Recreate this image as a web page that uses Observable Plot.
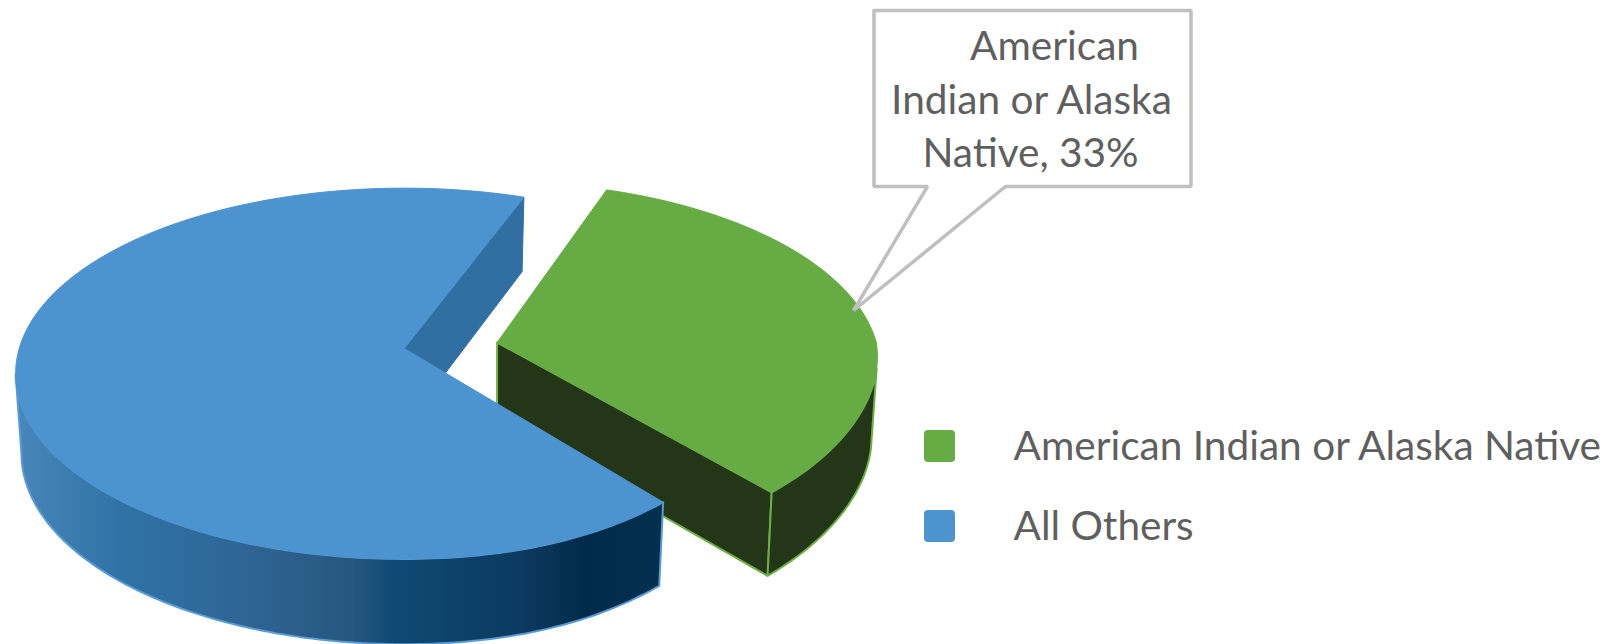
<!DOCTYPE html>
<html>
<head>
<meta charset="utf-8">
<style>
  html, body { margin: 0; padding: 0; background: #fff; }
  svg { display: block; }
</style>
<script src="https://cdn.jsdelivr.net/npm/d3@7"></script>
<script src="https://cdn.jsdelivr.net/npm/@observablehq/plot@0.6"></script>
</head>
<body>
<div id="chart"></div>
<script>
// Chart values
const categories = ["American Indian or Alaska Native", "All Others"];
const shares = [33, 67];
const calloutLines = ["American", "Indian or Alaska", "Native, 33%"];

// Colours
const topColors = ["#67ab45", "#4d93d0"];
const edgeColors = ["#70ad47", "#5b9bd5"];
const greenWall = "#233618";
const notchWall = "#316fa3";
const sideStops = [
  [0, "#4a86b9"], [0.16, "#2f73a6"], [0.36, "#2e6594"], [0.52, "#27567f"],
  [0.58, "#0f4a74"], [0.78, "#0c3a60"], [0.88, "#012b4a"], [1, "#02304f"]
];

// Tilted-disc projection: a unit circle seen in perspective from above.
const disc = {rx: 385, ry: 182, k: 0.135, depth: 79, sx: 0.985, sy: 1.03};
const slices = [
  {center: {x: 496.6, y: 342}, scaleX: 0.985, lean: 0.06, turn: 19},
  {center: {x: 403.7, y: 348}, scaleX: 1, lean: 0.15, turn: 20.5}
];

function project(slice, deg, radius, bottom) {
  const a = (deg * Math.PI) / 180;
  const u = radius * Math.sin(a);
  const v = -radius * Math.cos(a);
  const w = 1 - disc.k * v;
  // The front-right of the disc pulls in slightly under the steep viewpoint.
  const pull = 1 - slice.lean * Math.max(0, u) * Math.max(0, v);
  const rx = disc.rx * slice.scaleX * pull;
  return bottom
    ? {x: slice.center.x + (disc.sx * rx * u) / w, y: slice.center.y + disc.depth + (disc.sy * disc.ry * v) / w}
    : {x: slice.center.x + (rx * u) / w, y: slice.center.y + (disc.ry * v) / w};
}

function rim(slice, from, to, bottom) {
  const steps = Math.ceil(Math.abs(to - from));
  return d3.range(steps + 1).map((i) => project(slice, from + ((to - from) * i) / steps, 1, bottom));
}

const polygon = (points, options) => Plot.line([...points, points[0]], {x: "x", y: "y", curve: "linear", ...options});

// Each slice sweeps its share of the circle; the blue one runs on from the green one.
const [green, blue] = slices;
const greenEnd = green.turn + (shares[0] / 100) * 360;
const blueEnd = blue.turn + 360;
const blueStart = blueEnd - (shares[1] / 100) * 360;

const greenTop = [project(green, 0, 0), ...rim(green, green.turn, greenEnd)];
const blueTop = [project(blue, 0, 0), ...rim(blue, blueStart, blueEnd)];
const greenOuter = [...rim(green, 98, greenEnd), ...rim(green, greenEnd, 98, true)];
const greenCut = [project(green, 0, 0), project(green, greenEnd, 1), project(green, greenEnd, 1, true), project(green, 0, 0, true)];
const blueOuter = [...rim(blue, blueStart, 262), ...rim(blue, 262, blueStart, true)];
const blueNotch = [project(blue, 0, 0), project(blue, blueEnd, 1), project(blue, blueEnd, 1, true), project(blue, 0, 0, true)];

// Callout outline and the two-row legend
const calloutBox = {x1: 873.5, x2: 1190.5, y1: 10, y2: 186, tailLeft: 927, tailRight: 1005, tipX: 853, tipY: 310};
const calloutPath = [
  {x: calloutBox.x1, y: calloutBox.y1}, {x: calloutBox.x2, y: calloutBox.y1},
  {x: calloutBox.x2, y: calloutBox.y2}, {x: calloutBox.tailRight, y: calloutBox.y2},
  {x: calloutBox.tipX, y: calloutBox.tipY}, {x: calloutBox.tailLeft, y: calloutBox.y2},
  {x: calloutBox.x1, y: calloutBox.y2}
];
const calloutText = calloutLines.map((text, i) => ({text, x: [1054, 1031, 1030][i], y: [59, 113, 166][i]}));
const legendRows = categories.map((category, i) => ({category, color: topColors[i], top: 430 + i * 80}));

const textStyle = {fontFamily: "Lato", fontSize: 40.6, fill: "#5f5f5f", stroke: "none"};

const chart = Plot.plot({
  width: 1619,
  height: 644,
  margin: 0,
  x: {domain: [0, 1619], range: [0, 1619], axis: null},
  y: {domain: [0, 644], range: [0, 644], axis: null},
  style: {background: "#fff"},
  marks: [
    () => {
      const svg = d3.create("svg:defs");
      const grad = svg.append("linearGradient").attr("id", "blueSide");
      sideStops.forEach(([o, c]) => grad.append("stop").attr("offset", o).attr("stop-color", c));
      return svg.node();
    },
    polygon(blueNotch, {fill: notchWall, stroke: notchWall, strokeWidth: 1}),
    polygon(greenCut, {fill: greenWall, stroke: edgeColors[0], strokeWidth: 2}),
    polygon(greenOuter, {fill: greenWall, stroke: edgeColors[0], strokeWidth: 2}),
    polygon(greenTop, {fill: topColors[0], stroke: topColors[0], strokeWidth: 1}),
    polygon(blueOuter, {fill: "url(#blueSide)", stroke: edgeColors[1], strokeWidth: 2}),
    polygon(blueTop, {fill: topColors[1], stroke: topColors[1], strokeWidth: 1}),
    polygon(calloutPath, {fill: "#fff", stroke: "#bfbfbf", strokeWidth: 3.5, strokeLinejoin: "miter"}),
    Plot.text(calloutText, {x: "x", y: "y", text: "text", textAnchor: "middle", lineAnchor: "bottom", ...textStyle}),
    Plot.rect(legendRows, {x1: () => 924, x2: () => 955, y1: "top", y2: (d) => d.top + 32, fill: "color", rx: 4}),
    Plot.text(legendRows, {x: () => 1013, y: (d) => d.top + 16, text: "category", textAnchor: "start", ...textStyle})
  ]
});
document.getElementById("chart").append(chart);
</script>
</body>
</html>
